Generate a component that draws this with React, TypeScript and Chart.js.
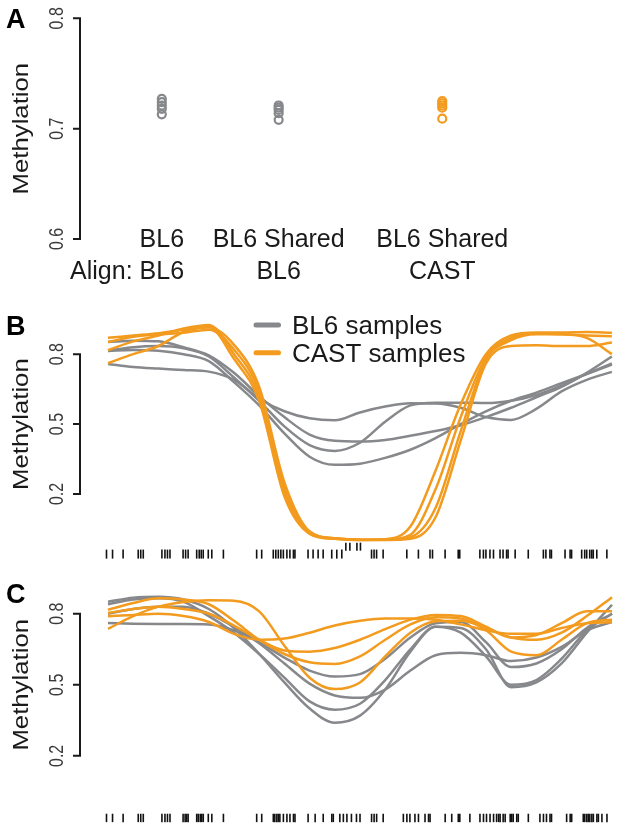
import React, { useEffect, useRef } from "react";
import { Chart, registerables } from "chart.js";

Chart.register(...registerables);

const GRAY = "#86888b";
const ORANGE = "#f39b1e";
const INK = "#1a1a1a";
const FONT = '"Liberation Sans", Arial, Helvetica, sans-serif';

// ---------- Panel A ----------
const A_POS = [1, 2, 3.4];
const A_LINE1 = ["BL6", "BL6 Shared", "BL6 Shared"];
const A_LINE2 = ["BL6", "BL6", "CAST"];
const A_ALIGN = "Align: ";
const A_BL6 = [0.727, 0.724, 0.721, 0.718, 0.713];
const A_SHARED_BL6 = [0.721, 0.719, 0.717, 0.714, 0.708];
const A_SHARED_CAST = [0.725, 0.723, 0.721, 0.719, 0.709];
const A_TICKS = [0.6, 0.7, 0.8];

// ---------- Panels B and C ----------
const POS = [0, 50, 100, 150, 200, 250, 300, 350, 400, 450, 500, 550, 600, 650, 700, 750, 800, 850, 900, 950, 1000];
const BC_TICKS = [0.2, 0.5, 0.8];
const LEGEND = ["BL6 samples", "CAST samples"];

const B_CAST_1 = [0.870, 0.880, 0.890, 0.905, 0.915, 0.840, 0.660, 0.250, 0.040, 0.010, 0.004, 0.006, 0.060, 0.300, 0.585, 0.800, 0.880, 0.893, 0.893, 0.895, 0.892];
const B_CAST_2 = [0.852, 0.875, 0.885, 0.892, 0.905, 0.820, 0.640, 0.230, 0.035, 0.010, 0.004, 0.004, 0.015, 0.140, 0.470, 0.775, 0.860, 0.885, 0.885, 0.870, 0.800];
const B_CAST_3 = [0.817, 0.855, 0.880, 0.910, 0.925, 0.800, 0.620, 0.210, 0.030, 0.008, 0.003, 0.003, 0.008, 0.100, 0.430, 0.760, 0.835, 0.838, 0.835, 0.835, 0.850];
const B_CAST_4 = [0.761, 0.800, 0.835, 0.895, 0.915, 0.780, 0.600, 0.190, 0.030, 0.008, 0.003, 0.004, 0.025, 0.220, 0.530, 0.785, 0.870, 0.890, 0.885, 0.880, 0.877];

const B_BL6_1 = [0.758, 0.745, 0.738, 0.732, 0.725, 0.690, 0.610, 0.555, 0.525, 0.516, 0.550, 0.575, 0.589, 0.588, 0.570, 0.530, 0.518, 0.565, 0.640, 0.690, 0.724];
const B_BL6_2 = [0.852, 0.858, 0.855, 0.830, 0.795, 0.720, 0.620, 0.530, 0.455, 0.428, 0.425, 0.432, 0.450, 0.470, 0.495, 0.530, 0.570, 0.615, 0.660, 0.720, 0.790];
const B_BL6_3 = [0.814, 0.830, 0.835, 0.825, 0.790, 0.700, 0.600, 0.490, 0.410, 0.385, 0.420, 0.510, 0.580, 0.592, 0.592, 0.590, 0.600, 0.625, 0.665, 0.715, 0.760];
const B_BL6_4 = [0.814, 0.818, 0.815, 0.800, 0.770, 0.680, 0.580, 0.460, 0.360, 0.325, 0.330, 0.355, 0.390, 0.440, 0.500, 0.555, 0.600, 0.635, 0.675, 0.715, 0.755];

const B_RUG = [-3, 9, 30, 60, 65, 70, 107, 113, 118, 123, 149, 154, 159, 176, 181, 185, 189, 199, 206, 229, 295, 305, 328, 333, 338, 343, 348, 355, 361, 368, 371, 397, 407, 417, 427, 444, 454, 464, 523, 528, 533, 546, 593, 616, 639, 644, 669, 695, 698, 738, 745, 750, 758, 765, 778, 784, 791, 794, 808, 834, 864, 869, 877, 880, 907, 917, 920, 940, 946, 950, 956, 960, 963, 970, 990];
const B_RUG_RAISED = [472, 480, 494, 501];

const C_CAST_1 = [0.736, 0.790, 0.830, 0.850, 0.857, 0.855, 0.810, 0.665, 0.530, 0.482, 0.510, 0.620, 0.720, 0.768, 0.770, 0.740, 0.700, 0.690, 0.720, 0.790, 0.870];
const C_CAST_2 = [0.817, 0.845, 0.865, 0.860, 0.840, 0.770, 0.690, 0.630, 0.595, 0.588, 0.620, 0.690, 0.755, 0.785, 0.780, 0.730, 0.640, 0.625, 0.690, 0.760, 0.775];
const C_CAST_3 = [0.803, 0.820, 0.830, 0.820, 0.800, 0.750, 0.690, 0.645, 0.640, 0.655, 0.690, 0.735, 0.775, 0.795, 0.790, 0.745, 0.700, 0.710, 0.760, 0.810, 0.810];
const C_CAST_4 = [0.789, 0.795, 0.800, 0.790, 0.765, 0.715, 0.690, 0.695, 0.720, 0.750, 0.770, 0.780, 0.780, 0.775, 0.755, 0.730, 0.715, 0.715, 0.740, 0.760, 0.764];

const C_BL6_1 = [0.851, 0.868, 0.872, 0.860, 0.820, 0.740, 0.630, 0.510, 0.400, 0.340, 0.370, 0.480, 0.640, 0.745, 0.720, 0.620, 0.500, 0.520, 0.610, 0.730, 0.800];
const C_BL6_2 = [0.840, 0.860, 0.865, 0.850, 0.790, 0.720, 0.630, 0.530, 0.430, 0.395, 0.420, 0.520, 0.650, 0.745, 0.740, 0.650, 0.490, 0.510, 0.590, 0.720, 0.838];
const C_BL6_3 = [0.800, 0.820, 0.830, 0.830, 0.800, 0.745, 0.675, 0.590, 0.505, 0.455, 0.445, 0.480, 0.560, 0.625, 0.635, 0.625, 0.600, 0.615, 0.660, 0.730, 0.765];
const C_BL6_4 = [0.761, 0.758, 0.757, 0.757, 0.755, 0.730, 0.680, 0.615, 0.560, 0.535, 0.545, 0.610, 0.700, 0.760, 0.765, 0.680, 0.575, 0.590, 0.650, 0.740, 0.800];

const C_RUG = [-3, 9, 30, 60, 65, 70, 107, 113, 118, 123, 149, 153, 156, 159, 176, 179, 183, 186, 189, 199, 206, 229, 295, 305, 328, 331, 335, 338, 341, 348, 355, 361, 368, 371, 397, 411, 427, 444, 447, 460, 467, 474, 483, 493, 500, 523, 528, 533, 546, 586, 593, 599, 609, 616, 629, 636, 639, 669, 682, 695, 698, 718, 738, 745, 751, 758, 765, 771, 775, 778, 784, 788, 798, 801, 804, 811, 814, 834, 857, 864, 870, 877, 880, 910, 917, 920, 943, 946, 950, 953, 956, 960, 963, 970, 973, 980, 990];

// ---------- layout constants ----------
const W = 618;
const AXIS_X = 80;

function lineSet(values: number[], color: string) {
  return {
    type: "line" as const,
    data: values.map((v, i) => ({ x: POS[i], y: v })),
    borderColor: color,
    borderWidth: 2.5,
    pointRadius: 0,
    fill: false,
    cubicInterpolationMode: "monotone" as const,
    clip: false as any,
  };
}

function rugSet(positions: number[], yVal: number, half: number) {
  return {
    type: "scatter" as const,
    data: positions.map((p) => ({ x: p, y: yVal })),
    pointStyle: "line" as const,
    rotation: 90,
    radius: half,
    borderColor: "#111",
    borderWidth: 1.6,
    backgroundColor: "#111",
    showLine: false,
    clip: false as any,
  };
}

function drawRotated(ctx: CanvasRenderingContext2D, text: string, x: number, y: number, font: string, sx: number, color: string) {
  ctx.save();
  ctx.translate(x, y);
  ctx.rotate(-Math.PI / 2);
  ctx.scale(sx, 1);
  ctx.font = font;
  ctx.fillStyle = color;
  ctx.textAlign = "center";
  ctx.textBaseline = "alphabetic";
  ctx.fillText(text, 0, 0);
  ctx.restore();
}

function axisPlugin(ticks: number[], letter: string, letterBaseline: number, extra?: (chart: any) => void) {
  return {
    id: "rAxis" + letter,
    afterDraw(chart: any) {
      const ctx: CanvasRenderingContext2D = chart.ctx;
      const ys = chart.scales.y;
      const yTop = ys.getPixelForValue(Math.max(...ticks));
      const yBot = ys.getPixelForValue(Math.min(...ticks));
      ctx.save();
      ctx.strokeStyle = INK;
      ctx.lineWidth = 2;
      ctx.beginPath();
      ctx.moveTo(AXIS_X, yTop - 1);
      ctx.lineTo(AXIS_X, yBot + 1);
      ticks.forEach((t) => {
        const py = ys.getPixelForValue(t);
        ctx.moveTo(AXIS_X + 1, py);
        ctx.lineTo(AXIS_X - 7, py);
      });
      ctx.stroke();
      ticks.forEach((t) => {
        const py = ys.getPixelForValue(t);
        drawRotated(ctx, t.toFixed(1), 63, py, `20px ${FONT}`, 0.8, "#3a3a3a");
      });
      drawRotated(ctx, "Methylation", 28, (yTop + yBot) / 2, `22px ${FONT}`, 1.17, INK);
      ctx.font = `bold 27px ${FONT}`;
      ctx.fillStyle = "#000";
      ctx.textAlign = "left";
      ctx.textBaseline = "alphabetic";
      ctx.fillText(letter, 6, letterBaseline);
      if (extra) extra(chart);
      ctx.restore();
    },
  };
}

function buildA(canvas: HTMLCanvasElement) {
  const groups = [A_BL6, A_SHARED_BL6, A_SHARED_CAST];
  const colors = [GRAY, GRAY, ORANGE];
  const datasets = groups.map((vals, gi) => ({
    type: "scatter" as const,
    data: vals.map((v) => ({ x: A_POS[gi], y: v })),
    pointStyle: "circle" as const,
    radius: 4,
    borderWidth: 2.2,
    borderColor: colors[gi],
    backgroundColor: "rgba(0,0,0,0)",
    clip: false as any,
  }));
  const labels = (chart: any) => {
    const ctx: CanvasRenderingContext2D = chart.ctx;
    const xs = chart.scales.x;
    ctx.font = `25px ${FONT}`;
    ctx.fillStyle = INK;
    ctx.textBaseline = "alphabetic";
    A_POS.forEach((p, i) => {
      const px = xs.getPixelForValue(p);
      ctx.textAlign = "center";
      ctx.fillText(A_LINE1[i], px, 247);
      ctx.fillText(A_LINE2[i], px, 279);
      if (i === 0) {
        const w = ctx.measureText(A_LINE2[i]).width;
        ctx.textAlign = "right";
        ctx.fillText(A_ALIGN, px - w / 2, 279);
      }
    });
  };
  return new Chart(canvas, {
    type: "scatter",
    data: { datasets: datasets as any },
    options: {
      responsive: false,
      maintainAspectRatio: false,
      animation: false,
      events: [],
      layout: { padding: { left: 80, right: 18, top: 18.3, bottom: 51 } },
      scales: {
        x: { type: "linear", min: 0.3, max: 4.75, display: false },
        y: { type: "linear", min: 0.6, max: 0.8, display: false },
      },
      plugins: { legend: { display: false }, tooltip: { enabled: false } },
    },
    plugins: [axisPlugin(A_TICKS, "A", 28, labels)],
  });
}

function buildLines(
  canvas: HTMLCanvasElement,
  cast: number[][],
  bl6: number[][],
  rugs: any[],
  yMin: number,
  yMax: number,
  pad: { top: number; bottom: number },
  letter: string,
  letterBaseline: number,
  legend: boolean
) {
  const datasets = [
    ...rugs,
    ...cast.map((v) => lineSet(v, ORANGE)),
    ...bl6.map((v) => lineSet(v, GRAY)),
  ];
  const legendDraw = legend
    ? (chart: any) => {
        const ctx: CanvasRenderingContext2D = chart.ctx;
        const rows = [
          { y: 35, c: GRAY, t: LEGEND[0] },
          { y: 62.7, c: ORANGE, t: LEGEND[1] },
        ];
        rows.forEach((r) => {
          ctx.strokeStyle = r.c;
          ctx.lineWidth = 5;
          ctx.lineCap = "round";
          ctx.beginPath();
          ctx.moveTo(256, r.y);
          ctx.lineTo(278.5, r.y);
          ctx.stroke();
          ctx.font = `26px ${FONT}`;
          ctx.fillStyle = INK;
          ctx.textAlign = "left";
          ctx.textBaseline = "alphabetic";
          ctx.fillText(r.t, 292, r.y + 9);
        });
      }
    : undefined;
  return new Chart(canvas, {
    type: "line",
    data: { datasets: datasets as any },
    options: {
      responsive: false,
      maintainAspectRatio: false,
      animation: false,
      events: [],
      layout: { padding: { left: 102.96, right: 6, top: pad.top, bottom: pad.bottom } },
      scales: {
        x: { type: "linear", min: -10, max: 1000, display: false },
        y: { type: "linear", min: yMin, max: yMax, display: false },
      },
      plugins: { legend: { display: false }, tooltip: { enabled: false } },
    },
    plugins: [axisPlugin(BC_TICKS, letter, letterBaseline, legendDraw)],
  });
}

export default function App() {
  const refA = useRef<HTMLCanvasElement>(null);
  const refB = useRef<HTMLCanvasElement>(null);
  const refC = useRef<HTMLCanvasElement>(null);

  useEffect(() => {
    document.body.style.margin = "0";
    const a = buildA(refA.current!);
    const b = buildLines(
      refB.current!,
      [B_CAST_1, B_CAST_2, B_CAST_3, B_CAST_4],
      [B_BL6_1, B_BL6_2, B_BL6_3, B_BL6_4],
      [rugSet(B_RUG, -0.058, 4.5), rugSet(B_RUG_RAISED, -0.026, 4)],
      -0.1,
      1.0,
      { top: 17.56, bottom: 1.5 },
      "B",
      45,
      true
    );
    const c = buildLines(
      refC.current!,
      [C_CAST_1, C_CAST_2, C_CAST_3, C_CAST_4],
      [C_BL6_1, C_BL6_2, C_BL6_3, C_BL6_4],
      [rugSet(C_RUG, -0.062, 4.2)],
      -0.08,
      0.95,
      { top: 8.2, bottom: 3.8 },
      "C",
      33,
      false
    );
    return () => {
      a.destroy();
      b.destroy();
      c.destroy();
    };
  }, []);

  const cs = (top: number, h: number): React.CSSProperties => ({
    position: "absolute",
    left: 0,
    top,
    width: W,
    height: h,
  });

  return (
    <div style={{ position: "relative", width: W, height: 828, background: "#fff" }}>
      <canvas ref={refA} width={W} height={290} style={cs(0, 290)} />
      <canvas ref={refB} width={W} height={280} style={cs(290, 280)} />
      <canvas ref={refC} width={W} height={258} style={cs(570, 258)} />
    </div>
  );
}
